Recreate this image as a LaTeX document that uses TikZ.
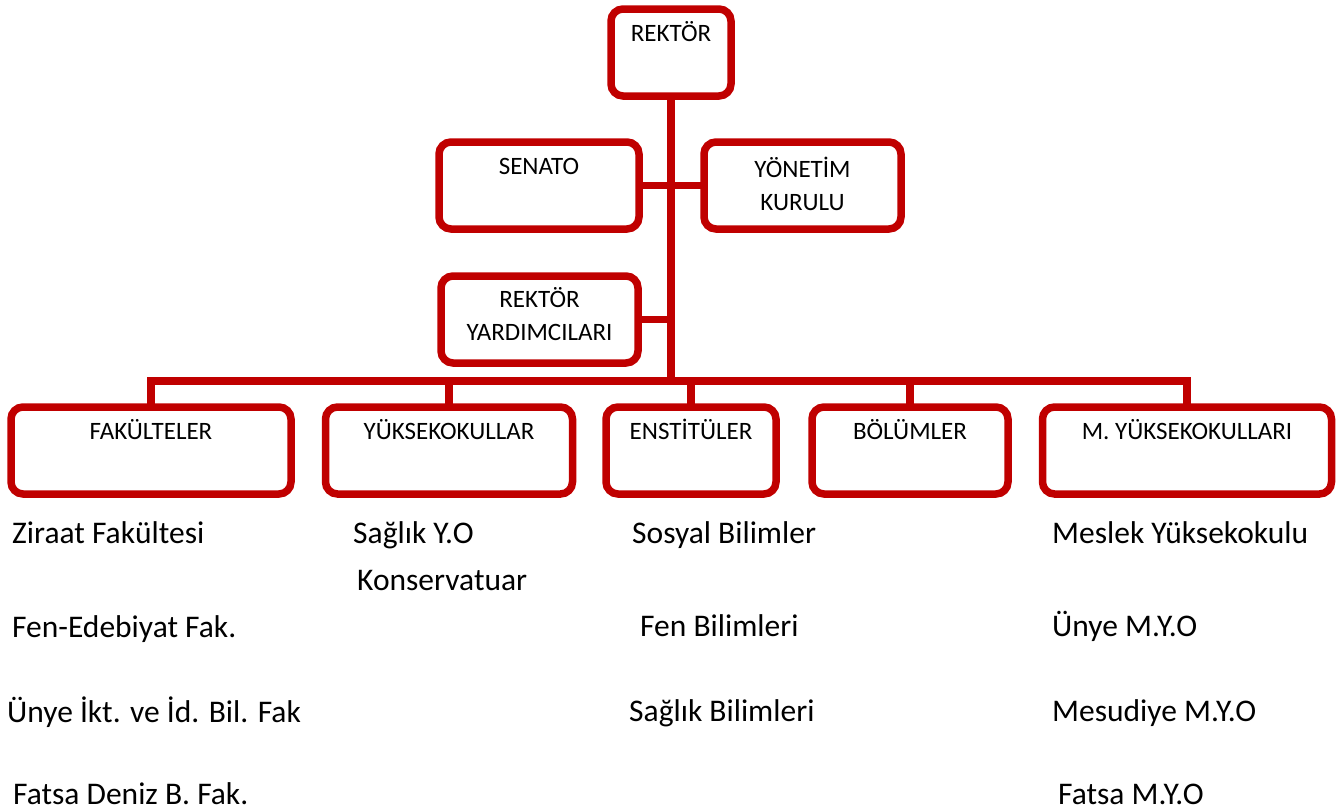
\documentclass[tikz,border=0pt]{standalone}
\usepackage{fontspec}
\setmainfont{Carlito}
\usepackage{tikz}

\definecolor{koyukirmizi}{HTML}{C00000}
\newcommand{\kutufont}{\fontsize{25}{30}\selectfont}
\newcommand{\listefont}{\fontsize{31.5}{38}\selectfont}

\tikzset{
    kutu/.style = {%
        draw = koyukirmizi,
        fill = white,
        line width = 7.5pt,
        rounded corners = 12pt,
        minimum width = #1,
        minimum height = 87pt,
        inner sep = 0pt,
        outer sep = 0pt
    },
    baslik/.style = {anchor = base, font = \kutufont, inner sep = 0pt},
    liste/.style = {anchor = base west, font = \listefont, inner sep = 0pt},
    hat/.style = {draw = koyukirmizi, line width = 7.5pt}
}

\begin{document}
\begin{tikzpicture}[x = 1pt, y = -1pt]

        % Page size of the reference.
        \useasboundingbox (0, 0) rectangle (1339, 809);

        % Top of the chart.
        \node[kutu = 120pt, label = {[baslik, yshift = -32.5pt]north:REKTÖR}]
            (rektor) at (671, 52.5) {};
        \node[kutu = 200pt, label = {[baslik, yshift = -32.5pt]north:SENATO}]
            (senato) at (539, 185.5) {};
        \node[kutu = 197pt,
              label = {[baslik, yshift = -35pt]north:YÖNETİM},
              label = {[baslik, yshift = -68pt]north:KURULU}]
            (yonetim) at (802.5, 185.5) {};
        \node[kutu = 197pt,
              label = {[baslik, yshift = -31pt]north:REKTÖR},
              label = {[baslik, yshift = -64pt]north:YARDIMCILARI}]
            (yardimci) at (539.5, 319.5) {};

        % The row of units.
        \node[kutu = 280pt, label = {[baslik, yshift = -32.5pt]north:FAKÜLTELER}]
            (fakulte) at (151, 450.5) {};
        \node[kutu = 247pt, label = {[baslik, yshift = -32.5pt]north:YÜKSEKOKULLAR}]
            (yuksek) at (449, 450.5) {};
        \node[kutu = 170pt, label = {[baslik, yshift = -32.5pt]north:ENSTİTÜLER}]
            (enstitu) at (691, 450.5) {};
        \node[kutu = 196pt, label = {[baslik, yshift = -32.5pt]north:BÖLÜMLER}]
            (bolum) at (910, 450.5) {};
        \node[kutu = 289pt, label = {[baslik, yshift = -32.5pt]north:M. YÜKSEKOKULLARI}]
            (myo) at (1187, 450.5) {};

        % Level of the horizontal bar.
        \coordinate (bar) at (672, 381);

        % Connectors.
        \draw[hat] (rektor.south) to (rektor.south |- bar);
        \draw[hat] (senato.east) to (yonetim.west);
        \draw[hat] (yardimci.east) to (yardimci.east -| rektor.south);
        \draw[hat] (fakulte.north) -- (fakulte.north |- bar)
                   -- (myo.north |- bar) -- (myo.north);
        \draw[hat] (yuksek.north) to (yuksek.north |- bar);
        \draw[hat] (enstitu.north) to (enstitu.north |- bar);
        \draw[hat] (bolum.north) to (bolum.north |- bar);

        % Faculties.
        \node[liste] (ziraat) at (12, 543) {Ziraat Fakültesi};
        \node[liste] (fenedeb) at (12, 637) {Fen-Edebiyat Fak.};
        \node[liste] (unyeiktisat) at (7, 722) {Ünye İkt. ve İd. Bil. Fak};
        \node[liste] (fatsadeniz) at (13, 804) {Fatsa Deniz B. Fak.};

        % Schools.
        \node[liste] (saglikyo) at (353, 543) {Sağlık Y.O};
        \node[liste] (konserv) at (357, 590) {Konservatuar};

        % Institutes.
        \node[liste] (sosyal) at (632, 543) {Sosyal Bilimler};
        \node[liste] (fenbil) at (640, 636) {Fen Bilimleri};
        \node[liste] (saglikbil) at (629, 721) {Sağlık Bilimleri};

        % Vocational schools.
        \node[liste] (meslek) at (1052, 543) {Meslek Yüksekokulu};
        \node[liste] (unyemyo) at (1052, 636) {Ünye M.Y.O};
        \node[liste] (mesudiye) at (1052, 721) {Mesudiye M.Y.O};
        \node[liste] (fatsamyo) at (1058, 804) {Fatsa M.Y.O};
    \end{tikzpicture}
\end{document}
